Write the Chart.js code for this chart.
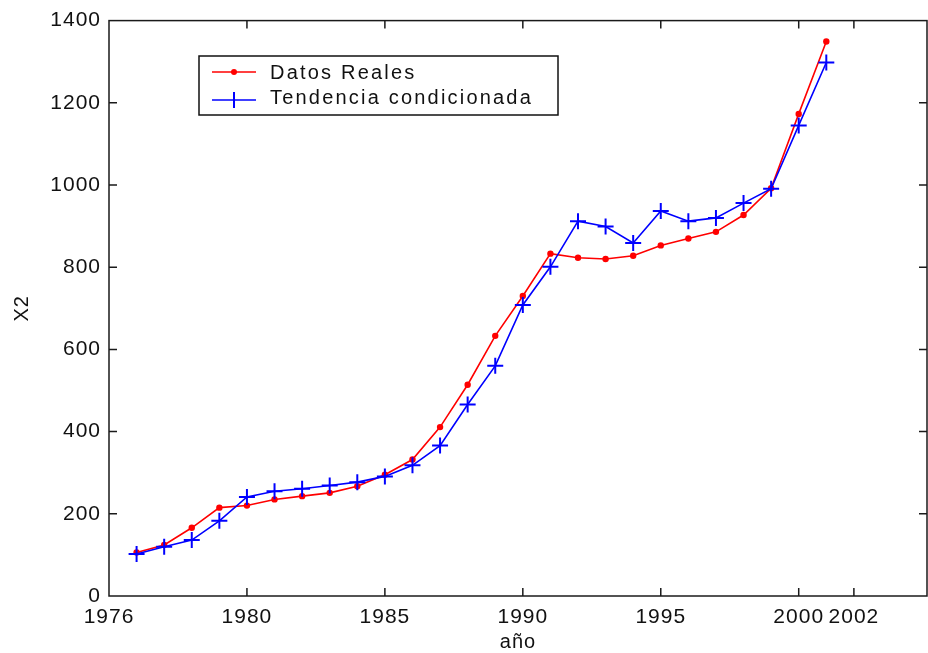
<!DOCTYPE html>
<html>
<head>
<meta charset="utf-8">
<script src="https://cdn.jsdelivr.net/npm/chart.js@4/dist/chart.umd.min.js"></script>
<style>
  html, body { margin: 0; padding: 0; background: #fff; overflow: hidden; }
  #wrap { width: 928px; height: 653px; position: relative; }
</style>
</head>
<body>
<div id="wrap"><canvas id="c" width="928" height="653"></canvas></div>
<script>
// Years of the series
const years = [1976, 1977, 1978, 1979, 1980, 1981, 1982, 1983, 1984, 1985, 1986, 1987, 1988,
               1989, 1990, 1991, 1992, 1993, 1994, 1995, 1996, 1997, 1998, 1999, 2000, 2001];

// Observed values of X2
const datosReales = [106, 124, 166, 215, 220, 235, 243, 251, 267, 295, 332, 411, 514,
                     633, 730, 833, 823, 820, 828, 853, 870, 886, 927, 992, 1173, 1349];

// Conditioned trend of X2
const tendencia = [102, 120, 136, 183, 241, 255, 261, 269, 277, 291, 318, 366, 466,
                   560, 708, 801, 912, 899, 859, 937, 912, 920, 956, 991, 1145, 1298];

// Axis ticks
const xTickValues = [1975, 1980, 1985, 1990, 1995, 2000, 2002];
const xTickLabels = ['1976', '1980', '1985', '1990', '1995', '2000', '2002'];
const yTickValues = [0, 200, 400, 600, 800, 1000, 1200, 1400];

const seriesNames = ['Datos Reales', 'Tendencia condicionada'];
const RED = '#ff0000';
const BLUE = '#0000ff';
const FONT = '"Liberation Sans", Arial, sans-serif';

// Box frame with inward tick marks on all four sides
const framePlugin = {
  id: 'frame',
  afterDatasetsDraw(chart) {
    const { ctx, chartArea: a, scales } = chart;
    const len = 8;
    ctx.save();
    ctx.strokeStyle = '#1a1a1a';
    ctx.lineWidth = 1.5;
    ctx.strokeRect(a.left, a.top, a.right - a.left, a.bottom - a.top);
    ctx.beginPath();
    scales.x.ticks.forEach(t => {
      const px = scales.x.getPixelForValue(t.value);
      if (px <= a.left + 1 || px >= a.right - 1) return;
      ctx.moveTo(px, a.bottom); ctx.lineTo(px, a.bottom - len);
      ctx.moveTo(px, a.top); ctx.lineTo(px, a.top + len);
    });
    scales.y.ticks.forEach(t => {
      const py = scales.y.getPixelForValue(t.value);
      if (py <= a.top + 1 || py >= a.bottom - 1) return;
      ctx.moveTo(a.left, py); ctx.lineTo(a.left + len, py);
      ctx.moveTo(a.right, py); ctx.lineTo(a.right - len, py);
    });
    ctx.stroke();
    ctx.restore();
  }
};

// Boxed legend in the upper-left of the plot
const boxLegendPlugin = {
  id: 'boxLegend',
  afterDraw(chart) {
    const { ctx } = chart;
    const bx = 199, by = 56, bw = 359, bh = 59;
    ctx.save();
    ctx.fillStyle = '#fff';
    ctx.fillRect(bx, by, bw, bh);
    ctx.strokeStyle = '#111';
    ctx.lineWidth = 1.5;
    ctx.strokeRect(bx, by, bw, bh);

    const rows = [72, 100];
    const x0 = 212, x1 = 256, xm = (x0 + x1) / 2;
    // red line with dot
    ctx.strokeStyle = RED; ctx.lineWidth = 1.5;
    ctx.beginPath(); ctx.moveTo(x0, rows[0]); ctx.lineTo(x1, rows[0]); ctx.stroke();
    ctx.fillStyle = RED;
    ctx.beginPath(); ctx.arc(xm, rows[0], 3, 0, Math.PI * 2); ctx.fill();
    // blue line with cross
    ctx.strokeStyle = BLUE;
    ctx.beginPath(); ctx.moveTo(x0, rows[1]); ctx.lineTo(x1, rows[1]); ctx.stroke();
    ctx.lineWidth = 2;
    ctx.beginPath(); ctx.moveTo(xm, rows[1] - 8); ctx.lineTo(xm, rows[1] + 8); ctx.stroke();

    ctx.fillStyle = '#111';
    ctx.font = '20px ' + FONT;
    ctx.letterSpacing = '2.2px';
    ctx.textAlign = 'left';
    ctx.textBaseline = 'alphabetic';
    ctx.fillText(seriesNames[0], 270, 79);
    ctx.fillText(seriesNames[1], 270, 104);
    ctx.restore();
  }
};

// Slightly wider text spacing for axis labels
const spacingPlugin = {
  id: 'spacing',
  beforeInit(chart) { chart.ctx.letterSpacing = '1px'; },
  beforeDraw(chart) { chart.ctx.letterSpacing = '1px'; }
};

new Chart(document.getElementById('c'), {
  type: 'line',
  data: {
    datasets: [
      {
        label: seriesNames[0],
        data: years.map((y, i) => ({ x: y, y: datosReales[i] })),
        borderColor: RED,
        backgroundColor: RED,
        borderWidth: 1.6,
        pointStyle: 'circle',
        pointRadius: 3.2,
        pointBorderWidth: 0,
        tension: 0,
        order: 2
      },
      {
        label: seriesNames[1],
        data: years.map((y, i) => ({ x: y, y: tendencia[i] })),
        borderColor: BLUE,
        backgroundColor: BLUE,
        borderWidth: 1.6,
        pointStyle: 'cross',
        pointRadius: 8,
        pointBorderWidth: 2,
        tension: 0,
        order: 1
      }
    ]
  },
  options: {
    responsive: false,
    animation: false,
    events: [],
    layout: { autoPadding: false, padding: { left: 0, right: 1, top: 19, bottom: 0 } },
    plugins: { legend: { display: false }, tooltip: { enabled: false } },
    scales: {
      x: {
        type: 'linear',
        min: 1975,
        max: 2004.65,
        afterBuildTicks: s => { s.ticks = xTickValues.map(v => ({ value: v })); },
        afterFit: s => { s.height = 57; },
        grid: { display: false, drawTicks: false },
        border: { display: false },
        ticks: {
          autoSkip: false,
          maxRotation: 0,
          padding: 9,
          color: '#111',
          font: { family: FONT, size: 21 },
          callback: v => xTickLabels[xTickValues.indexOf(v)]
        },
        title: {
          display: true,
          text: 'año',
          color: '#111',
          font: { family: FONT, size: 20, lineHeight: 1 },
          padding: { top: 0, bottom: 1 }
        }
      },
      y: {
        type: 'linear',
        min: 0,
        max: 1400,
        afterBuildTicks: s => { s.ticks = yTickValues.map(v => ({ value: v })); },
        afterFit: s => { s.width = 109; },
        grid: { display: false, drawTicks: false },
        border: { display: false },
        ticks: {
          padding: 8,
          color: '#111',
          font: { family: FONT, size: 21 },
          callback: v => String(v)
        },
        title: {
          display: true,
          text: 'X2',
          color: '#111',
          font: { family: FONT, size: 20, lineHeight: 1 },
          padding: { top: 12, bottom: 0 }
        }
      }
    }
  },
  plugins: [spacingPlugin, framePlugin, boxLegendPlugin]
});
</script>
</body>
</html>
